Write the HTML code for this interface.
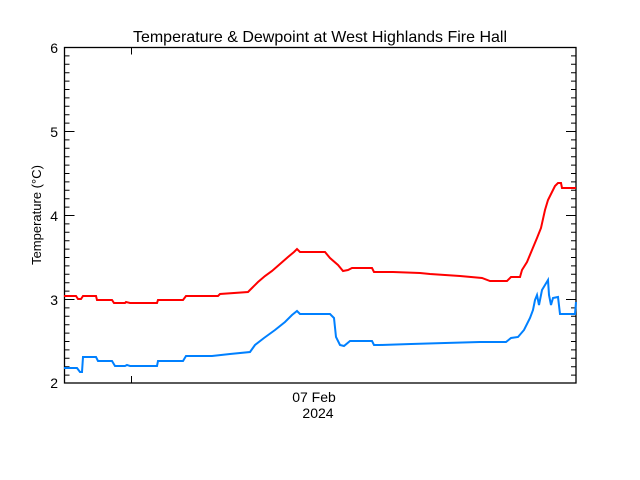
<!DOCTYPE html>
<html><head><meta charset="utf-8"><style>body{margin:0;background:#fff}svg{display:block}text{font-family:"Liberation Sans","DejaVu Sans",sans-serif;fill:#000}</style></head>
<body>
<svg width="640" height="480" viewBox="0 0 640 480">
<rect width="640" height="480" fill="#fff"/>
<text x="320" y="42" font-size="16" text-anchor="middle">Temperature &amp; Dewpoint at West Highlands Fire Hall</text>
<rect x="64.5" y="47.5" width="511.5" height="335.5" fill="none" stroke="#000" stroke-width="1.3"/>
<g stroke="#000" stroke-width="1">
<path d="M64.5 47.5h10M64.5 131.5h10M64.5 215.5h10M64.5 299.5h10M64.5 383h10M576 47.5h-10M576 131.5h-10M576 215.5h-10M576 299.5h-10M131.5 383v-7M131.5 47.5v7"/>
<path id="mt" d="M64.5 55.9h5M64.5 64.3h5M64.5 72.7h5M64.5 81.1h5M64.5 89.5h5M64.5 97.9h5M64.5 106.3h5M64.5 114.7h5M64.5 123.1h5M64.5 139.9h5M64.5 148.3h5M64.5 156.7h5M64.5 165.1h5M64.5 173.5h5M64.5 181.9h5M64.5 190.3h5M64.5 198.7h5M64.5 207.1h5M64.5 223.9h5M64.5 232.3h5M64.5 240.7h5M64.5 249.1h5M64.5 257.5h5M64.5 265.9h5M64.5 274.3h5M64.5 282.7h5M64.5 291.1h5M64.5 307.9h5M64.5 316.3h5M64.5 324.7h5M64.5 333.1h5M64.5 341.5h5M64.5 349.9h5M64.5 358.3h5M64.5 366.7h5M64.5 375.1h5"/>
<use href="#mt" transform="translate(640.5,0) scale(-1,1)"/>
</g>
<g font-size="14" text-anchor="end">
<text x="58" y="53">6</text><text x="58" y="137">5</text><text x="58" y="221">4</text><text x="58" y="305">3</text><text x="58" y="388">2</text>
</g>
<text x="314" y="402" font-size="14" text-anchor="middle">07 Feb</text>
<text x="318" y="418" font-size="14" text-anchor="middle">2024</text>
<text transform="translate(41,215) rotate(-90)" font-size="13" text-anchor="middle">Temperature (°C)</text>
<polyline fill="none" stroke="#ff0000" stroke-width="2" points="64,296 76,296 78,299 81,299 83,296 96,296 97,300 112,300 114,303 125,303 126,302 130,303 157,303 158,300 183,300 186,296 218,296 220,294 248,292 252,288 258,282 265,276 272,271 280,264 288,257 294,252 297,249 300,252 325,252 330,258 338,265 343,271 348,270 352,268 372,268 374,272 393,272 420,273 430,274 445,275 460,276 482,278 490,281 507,281 511,277 520,277 522,270 527,262 532,250 537,238 541,228 545,210 548,200 552,192 555,186 558,183 561,183 562,188 576,188"/>
<polyline fill="none" stroke="#0080ff" stroke-width="2" points="64,368 77,368 80,372 82,372 83,357 96,357 98,361 112,361 115,366 125,366 127,365 130,366 157,366 158,361 183,361 186,356 212,356 230,354 250,352 255,345 264,338 275,330 285,322 292,315 297,311 300,314 330,314 334,318 336,337 340,345 344,346 350,341 372,341 374,345 380,345 411,344 445,343 480,342 506,342 511,338 518,337 524,330 530,318 533,310 535,300 537,295 539,305 542,290 545,285 548,280 549,295 551,305 553,298 558,297 560,314 575,314 576,302"/>
</svg>
</body></html>
